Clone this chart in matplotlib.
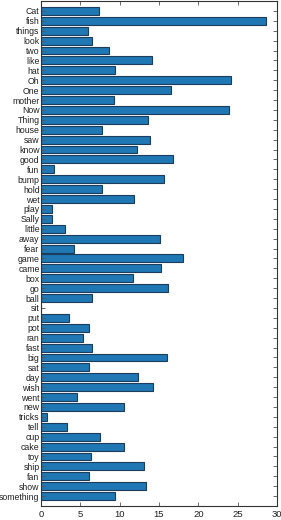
import matplotlib.pyplot as plt
import numpy as np

plt.rcParams['font.family'] = ['Liberation Sans', 'DejaVu Sans']

words = ['Cat', 'fish', 'things', 'look', 'two', 'like', 'hat', 'Oh', 'One', 'mother',
         'Now', 'Thing', 'house', 'saw', 'know', 'good', 'fun', 'bump', 'hold', 'wet',
         'play', 'Sally', 'little', 'away', 'fear', 'game', 'came', 'box', 'go', 'ball',
         'sit', 'put', 'pot', 'ran', 'fast', 'big', 'sat', 'day', 'wish', 'went',
         'new', 'tricks', 'tell', 'cup', 'cake', 'toy', 'ship', 'fan', 'show', 'something']
counts = [7.4, 28.6, 6.0, 6.5, 8.6, 14.1, 9.4, 24.2, 16.5, 9.3,
          23.9, 13.6, 7.7, 13.9, 12.2, 16.8, 1.7, 15.6, 7.7, 11.8,
          1.4, 1.4, 3.1, 15.1, 4.2, 18.0, 15.3, 11.7, 16.2, 6.5,
          0.0, 3.6, 6.1, 5.4, 6.5, 16.0, 6.1, 12.3, 14.2, 4.6,
          10.6, 0.8, 3.3, 7.5, 10.6, 6.4, 13.1, 6.1, 13.4, 9.4]
xticks = [0, 5, 10, 15, 20, 25, 30]

pos = np.arange(1, len(words) + 1)

fig = plt.figure(figsize=(2.81, 5.20), dpi=100)
ax = fig.add_axes([41 / 281, 14 / 520, 236 / 281, 505 / 520])

ax.barh(pos, counts, height=0.8, color='#1f77b4', edgecolor='#1c3d5c', linewidth=0.8)

ax.set_ylim(len(words) + 1, 0)
ax.set_xlim(0, 30)
ax.set_yticks(pos)
ax.set_yticklabels(words)
ax.set_xticks(xticks)

ax.tick_params(direction='in', length=3, width=0.6, color='#555555',
               top=True, right=True, labelsize=6.8, labelcolor='#222222')
ax.tick_params(axis='y', labelsize=6.3, pad=1)
ax.tick_params(axis='x', pad=3)
for s in ax.spines.values():
    s.set_linewidth(0.8)
    s.set_color('#333333')

fig.savefig('out.png', dpi=100)
